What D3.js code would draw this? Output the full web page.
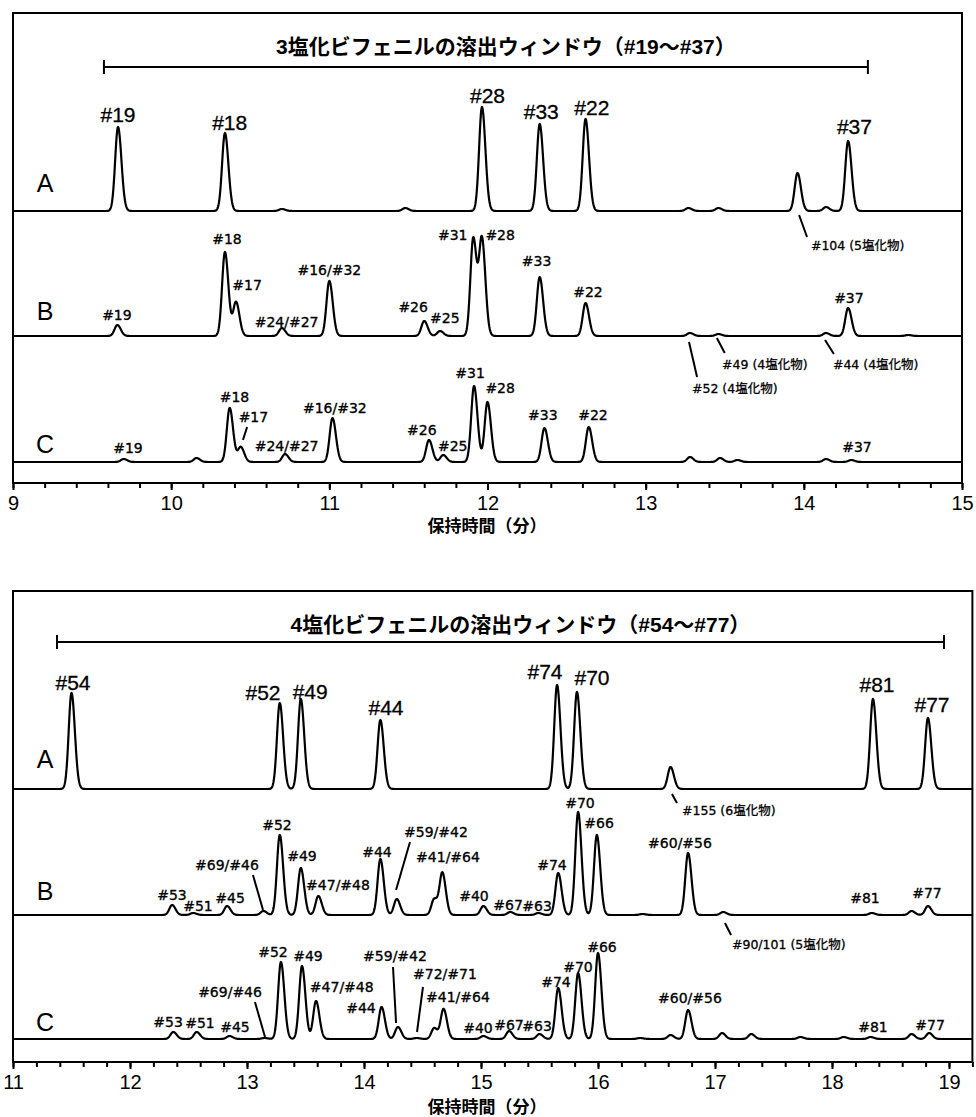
<!DOCTYPE html>
<html>
<head>
<meta charset="utf-8">
<script src="https://cdn.jsdelivr.net/npm/d3@7/dist/d3.min.js"></script>
<style>
  body { margin: 0; background: #fff; }
  svg { display: block; }
</style>
</head>
<body>
<svg id="chart"></svg>
<script>

// ============ DATA ============

// top panel : 3塩化 window, time axis in minutes
var topTicks = [9, 10, 11, 12, 13, 14, 15];
var topWindow = [9.575, 14.405];
var topTitle = "3塩化ビフェニルの溶出ウィンドウ（#19～#37）";

// peaks : [retention time (min), height]
var topPeaksA = [[9.664, 84], [10.34, 78], [10.70, 2], [11.48, 3], [11.965, 104], [12.33, 87],
                 [12.62, 92], [13.27, 3], [13.46, 3], [13.96, 38], [14.14, 4], [14.28, 70]];
var topPeaksB = [[9.66, 11], [10.34, 84], [10.41, 34], [10.70, 8], [11.00, 55], [11.60, 15],
                 [11.70, 5], [11.91, 98], [11.965, 96], [12.33, 59], [12.62, 33], [13.28, 3],
                 [13.46, 2], [14.14, 3], [14.28, 28], [14.66, 1]];
var topPeaksC = [[9.70, 3], [10.16, 4], [10.37, 54], [10.44, 15], [10.72, 8], [11.02, 44],
                 [11.63, 22], [11.72, 7], [11.915, 76], [12.00, 60], [12.36, 34], [12.64, 35],
                 [13.28, 5], [13.47, 4], [13.58, 2], [14.14, 3], [14.30, 2]];

// labels : [text, time, level]
var topLabelsA = [["#19", 9.664, 89], ["#18", 10.37, 81], ["#28", 12.0, 108],
                  ["#33", 12.34, 92], ["#22", 12.66, 96], ["#37", 14.32, 77]];
var topLabelsB = [["#19", 9.657, 16], ["#18", 10.353, 92], ["#17", 10.48, 46], ["#24/#27", 10.73, 9],
                  ["#16/#32", 11.0, 61], ["#26", 11.53, 24], ["#25", 11.73, 13], ["#31", 11.78, 96],
                  ["#28", 12.08, 96], ["#33", 12.31, 70], ["#22", 12.635, 39], ["#37", 14.285, 33]];
var topLabelsC = [["#19", 9.727, 9], ["#18", 10.40, 60], ["#17", 10.52, 40], ["#24/#27", 10.73, 11],
                  ["#16/#32", 11.035, 49], ["#26", 11.585, 27], ["#25", 11.78, 11], ["#31", 11.89, 84],
                  ["#28", 12.08, 69], ["#33", 12.35, 42], ["#22", 12.667, 42], ["#37", 14.336, 10]];

// notes : trace, text, leader from / to, text anchor (all in [time, level])
var topNotes = [
  {trace: 0, text: "#104 (5塩化物)", from: [13.97, -4], to: [14.02, -26], at: [14.045, -39]},
  {trace: 1, text: "#52 (4塩化物)", from: [13.274, -6], to: [13.325, -41], at: [13.293, -57]},
  {trace: 1, text: "#49 (4塩化物)", from: [13.45, -2], to: [13.50, -17], at: [13.483, -33]},
  {trace: 1, text: "#44 (4塩化物)", from: [14.134, -4], to: [14.19, -18], at: [14.184, -33]},
  {trace: 2, text: "", from: [10.48, 35], to: [10.454, 22], at: [10.48, 35]}
];

// bottom panel : 4塩化 window
var botTicks = [11, 12, 13, 14, 15, 16, 17, 18, 19];
var botWindow = [11.376, 18.957];
var botTitle = "4塩化ビフェニルの溶出ウィンドウ（#54～#77）";

var botPeaksA = [[11.50, 96], [13.28, 86], [13.46, 90], [14.14, 69], [15.65, 104], [15.82, 97],
                 [16.62, 22], [18.35, 90], [18.82, 71]];
var botPeaksB = [[12.36, 10], [12.54, 2], [12.83, 9], [13.14, 4], [13.28, 80], [13.46, 47],
                 [13.61, 19], [14.14, 56], [14.28, 16], [14.60, 16], [14.67, 42], [15.02, 9],
                 [15.25, 3], [15.49, 2], [15.66, 42], [15.83, 103], [15.99, 80], [16.38, 1],
                 [16.77, 62], [17.07, 3], [18.34, 2], [18.68, 4], [18.82, 9]];
var botPeaksC = [[12.37, 7], [12.57, 7], [12.85, 3], [13.15, 1], [13.29, 77], [13.47, 73],
                 [13.59, 38], [14.15, 32], [14.29, 12], [14.45, 1], [14.60, 11], [14.68, 30],
                 [15.02, 3], [15.24, 8], [15.50, 5], [15.66, 51], [15.83, 66], [16.00, 86],
                 [16.36, 1], [16.62, 4], [16.77, 29], [17.06, 6], [17.31, 5], [17.73, 2],
                 [18.10, 2], [18.33, 2], [18.68, 5], [18.83, 6]];

var botLabelsA = [["#54", 11.513, 99], ["#52", 13.137, 89], ["#49", 13.54, 90], ["#44", 14.188, 74],
                  ["#74", 15.547, 110], ["#70", 15.949, 104], ["#81", 18.385, 97], ["#77", 18.855, 77]];
var botLabelsB = [["#53", 12.359, 15], ["#51", 12.581, 4], ["#45", 12.855, 12], ["#69/#46", 12.829, 45],
                  ["#52", 13.256, 85], ["#49", 13.47, 54], ["#47/#48", 13.778, 25], ["#44", 14.111, 58],
                  ["#59/#42", 14.615, 78], ["#41/#64", 14.718, 53], ["#40", 14.94, 14], ["#67", 15.231, 5],
                  ["#63", 15.479, 4], ["#74", 15.607, 45], ["#70", 15.846, 107], ["#66", 16.009, 87],
                  ["#60/#56", 16.701, 67], ["#81", 18.282, 12], ["#77", 18.812, 17]];
var botLabelsC = [["#53", 12.325, 12], ["#51", 12.598, 11], ["#45", 12.897, 7], ["#69/#46", 12.855, 42],
                  ["#52", 13.222, 82], ["#49", 13.521, 78], ["#47/#48", 13.81, 47], ["#44", 13.974, 26],
                  ["#59/#42", 14.265, 78], ["#72/#71", 14.692, 60], ["#41/#64", 14.803, 37], ["#40", 14.974, 6],
                  ["#67", 15.239, 9], ["#63", 15.479, 8], ["#74", 15.641, 52], ["#70", 15.829, 67],
                  ["#66", 16.034, 87], ["#60/#56", 16.786, 36], ["#81", 18.35, 7], ["#77", 18.838, 9]];

var botNotes = [
  {trace: 0, text: "#155 (6塩化物)", from: [16.632, -5], to: [16.675, -14], at: [16.718, -26]},
  {trace: 1, text: "", from: [13.051, 40], to: [13.137, 5], at: [13.051, 40]},
  {trace: 1, text: "", from: [14.393, 73], to: [14.274, 25], at: [14.393, 73]},
  {trace: 1, text: "#90/101 (5塩化物)", from: [17.085, -8], to: [17.137, -20], at: [17.145, -34]},
  {trace: 2, text: "", from: [13.068, 37], to: [13.154, 2], at: [13.068, 37]},
  {trace: 2, text: "", from: [14.248, 72], to: [14.274, 16], at: [14.248, 72]},
  {trace: 2, text: "", from: [14.504, 52], to: [14.453, 7], at: [14.504, 52]}
];

var traceNames = ["A", "B", "C"];
var xTitle = "保持時間（分）";

// ============ LAYOUT ============
var width = 976, height = 1117;

var FONT_LATIN = "'Liberation Sans', Arial, 'Noto Sans CJK JP', sans-serif";
var FONT_LABEL = "'DejaVu Sans', 'Noto Sans CJK JP', sans-serif";

var panels = [
  {domain: [9, 15], left: 13, right: 962, top: 13, axisY: 483,
   bases: [211, 336, 462], nameLift: [19, 16, 9],
   titleY: 54, windowY: 67, xTitleY: 532, sigma: 0.018,
   ticks: topTicks, win: topWindow, title: topTitle,
   peaks: [topPeaksA, topPeaksB, topPeaksC],
   labels: [topLabelsA, topLabelsB, topLabelsC], notes: topNotes},
  {domain: [11, 19.2], left: 13, right: 972.4, top: 591, axisY: 1062,
   bases: [789, 915, 1039], nameLift: [21, 15, 8],
   titleY: 632, windowY: 642, xTitleY: 1113, sigma: 0.024,
   ticks: botTicks, win: botWindow, title: botTitle,
   peaks: [botPeaksA, botPeaksB, botPeaksC],
   labels: [botLabelsA, botLabelsB, botLabelsC], notes: botNotes}
];

var tail = 1.2; // right side of peaks a bit wider (tailing)

var svg = d3.select("#chart").attr("width", width).attr("height", height);
svg.append("rect").attr("width", width).attr("height", height).attr("fill", "#fff");

// sum of (slightly tailing) gaussian peaks
function signal(peaks, sigma, t) {
    var v = 0;
    peaks.forEach(function(p) {
        var s = sigma * (t > p[0] ? tail : 1);
        var z = (t - p[0]) / s;
        if (Math.abs(z) < 8) v += p[1] * Math.exp(-0.5 * z * z);
    });
    return v;
}

panels.forEach(function(P) {
    var g = svg.append("g");
    var x = d3.scaleLinear().domain(P.domain).range([P.left, P.right]);

    // frame
    g.append("rect")
        .attr("x", x(P.domain[0])).attr("y", P.top)
        .attr("width", x(P.domain[1]) - x(P.domain[0]))
        .attr("height", P.axisY - P.top)
        .attr("fill", "none").attr("stroke", "#000").attr("stroke-width", 2);

    // axis (majors + minors every 0.2 min)
    var minor = d3.range(P.domain[0], P.domain[1] + 1e-6, 0.2);
    g.append("g").attr("transform", "translate(0," + P.axisY + ")")
        .call(d3.axisBottom(x).tickValues(minor).tickSize(5).tickSizeOuter(0).tickFormat(""))
        .call(function(a){ a.select(".domain").remove(); a.selectAll("line").attr("stroke-width", 2); });
    var ax = g.append("g").attr("transform", "translate(0," + P.axisY + ")")
        .call(d3.axisBottom(x).tickValues(P.ticks).tickSize(7).tickSizeOuter(0).tickPadding(6)
              .tickFormat(d3.format("d")));
    ax.select(".domain").remove();
    ax.selectAll("line").attr("stroke-width", 2);
    ax.selectAll("text").attr("font-family", FONT_LATIN).attr("font-size", 20).attr("fill", "#000");

    g.append("text")
        .attr("x", 487)
        .attr("y", P.xTitleY)
        .attr("text-anchor", "middle")
        .attr("font-family", "'Noto Sans CJK JP', sans-serif")
        .attr("font-weight", "bold")
        .attr("font-size", 17)
        .text(xTitle);

    // title + window bracket
    g.append("text")
        .attr("x", x((P.win[0] + P.win[1]) / 2) + 20)
        .attr("y", P.titleY)
        .attr("text-anchor", "middle")
        .attr("font-family", FONT_LATIN)
        .attr("font-weight", "bold")
        .attr("font-size", 21)
        .text(P.title);
    g.append("line")
        .attr("x1", x(P.win[0])).attr("x2", x(P.win[1]))
        .attr("y1", P.windowY).attr("y2", P.windowY)
        .attr("stroke", "#000").attr("stroke-width", 2);
    g.selectAll(null).data(P.win).enter().append("line")
        .attr("x1", d => x(d)).attr("x2", d => x(d))
        .attr("y1", P.windowY - 7).attr("y2", P.windowY + 7)
        .attr("stroke", "#000").attr("stroke-width", 2);

    // traces
    var samples = d3.range(P.domain[0], P.domain[1] + 1e-9, 0.002);
    P.peaks.forEach(function(peaks, i) {
        var base = P.bases[i];
        var y = d3.scaleLinear().domain([0, 100]).range([base, base - 100]);
        var line = d3.line()
            .x(d => x(d))
            .y(d => y(signal(peaks, P.sigma, d)));
        g.append("path")
            .attr("d", line(samples))
            .attr("fill", "none").attr("stroke", "#000")
            .attr("stroke-width", 2.2).attr("stroke-linejoin", "round");

        // trace letter
        g.append("text")
            .attr("x", 45).attr("y", y(P.nameLift[i]))
            .attr("text-anchor", "middle")
            .attr("font-family", FONT_LATIN).attr("font-size", 25)
            .text(traceNames[i]);

        // peak labels
        var big = (i === 0);
        g.selectAll(null).data(P.labels[i]).enter().append("text")
            .attr("x", d => x(d[1])).attr("y", d => y(d[2]))
            .attr("text-anchor", "middle")
            .attr("font-family", big ? FONT_LATIN : FONT_LABEL)
            .attr("font-size", big ? 21 : 14)
            .attr("stroke", "#000").attr("stroke-width", big ? 0.3 : 0.35)
            .text(d => d[0]);

        // notes with leader lines
        var notes = P.notes.filter(n => n.trace === i);
        g.selectAll(null).data(notes).enter().append("line")
            .attr("x1", d => x(d.from[0])).attr("y1", d => y(d.from[1]))
            .attr("x2", d => x(d.to[0])).attr("y2", d => y(d.to[1]))
            .attr("stroke", "#000").attr("stroke-width", 2);
        g.selectAll(null).data(notes.filter(n => n.text)).enter().append("text")
            .attr("x", d => x(d.at[0])).attr("y", d => y(d.at[1]))
            .attr("font-family", FONT_LABEL).attr("font-size", 12.5)
            .attr("stroke", "#000").attr("stroke-width", 0.3)
            .text(d => d.text);
    });
});
</script>
</body>
</html>
